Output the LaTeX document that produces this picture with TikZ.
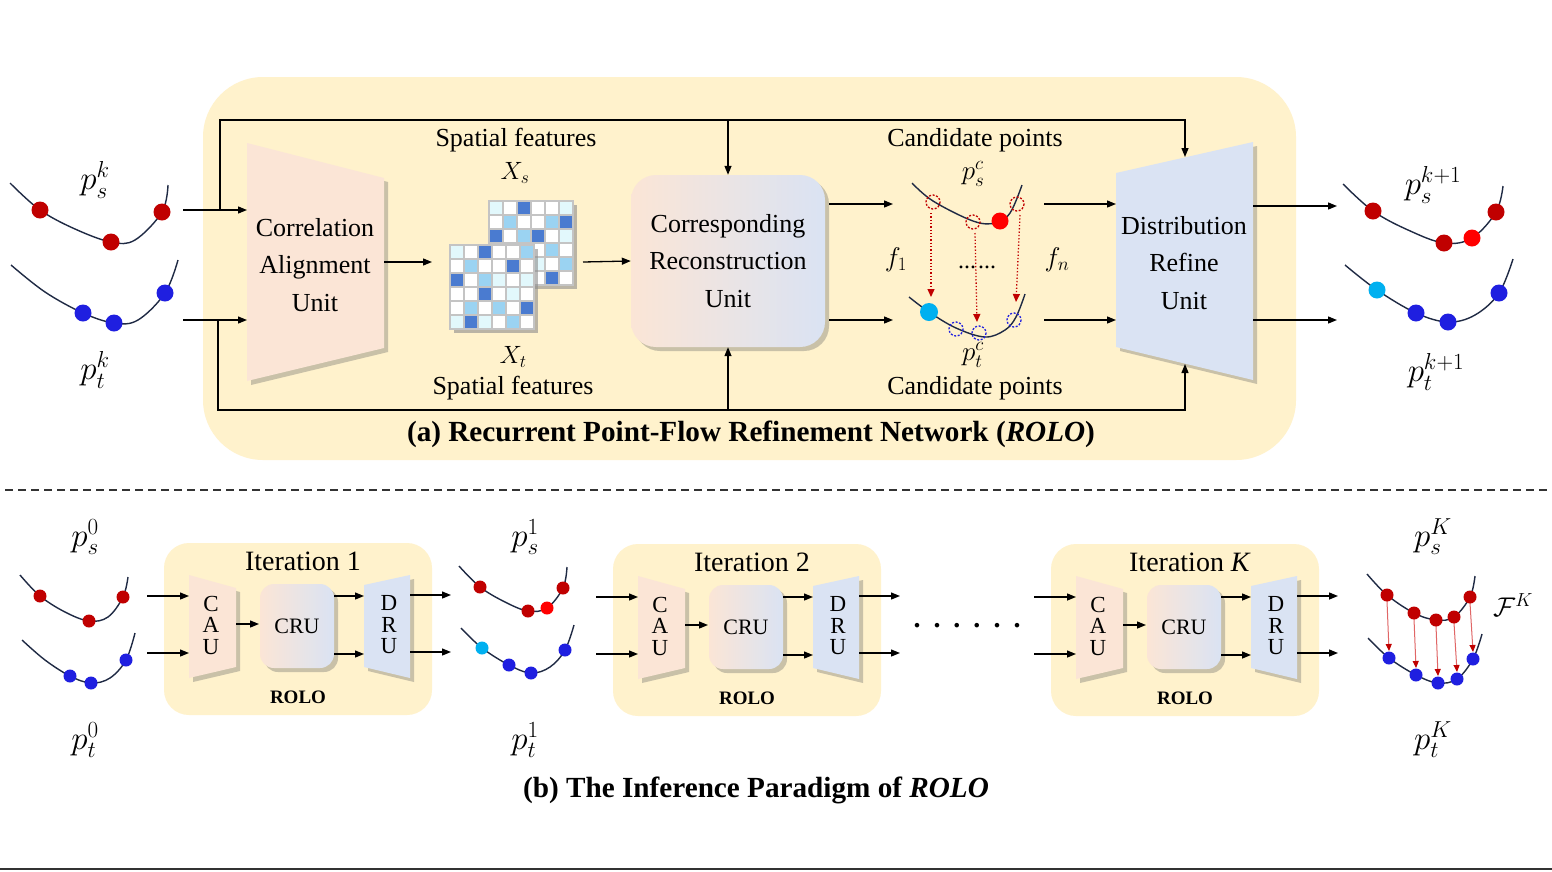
\RequirePackage{fix-cm}
\documentclass[tikz,border=0pt]{standalone}
\usepackage{fontspec}
\setmainfont{Liberation Serif}
\usetikzlibrary{arrows.meta,shadows,calc}
\definecolor{panel}{HTML}{FFF2CC}
\definecolor{caufill}{HTML}{FBE5D6}
\definecolor{drufill}{HTML}{DAE3F3}
\definecolor{dred}{HTML}{C00000}
\definecolor{bred}{HTML}{FF0000}
\definecolor{dblue}{HTML}{1F1FE0}
\definecolor{cyanp}{HTML}{00B0F0}
\definecolor{navy}{HTML}{1F2A44}
\definecolor{lred}{HTML}{E06666}
\definecolor{gw}{HTML}{FFFFFF}
\definecolor{gc}{HTML}{E2F8FC}
\definecolor{gl}{HTML}{9BD3F2}
\definecolor{gb}{HTML}{4A7BD0}
\definecolor{gline}{HTML}{C4C4C4}
\tikzset{
  arr/.style={-{Triangle[length=9pt,width=7pt]}, line width=1.3pt, black},
  crv/.style={line width=1.4pt, navy},
  shd/.style={drop shadow={shadow xshift=4pt, shadow yshift=-4pt, opacity=0.35, fill=black!60}},
  lab/.style={font=\fontsize{26}{37.5}\selectfont, align=center, inner sep=0pt},
  mth/.style={font=\fontsize{27}{32}\selectfont, inner sep=0pt},
  mthbig/.style={font=\fontsize{33}{38}\selectfont, inner sep=0pt},
  mthx/.style={font=\fontsize{25}{30}\selectfont, inner sep=0pt},
  ttl/.style={font=\fontsize{28}{34}\selectfont, inner sep=0pt},
  lett/.style={font=\fontsize{23}{21.5}\selectfont, align=center, inner sep=0pt},
  captxt/.style={font=\bfseries\fontsize{29.2}{34}\selectfont, inner sep=0pt},
  rololab/.style={font=\bfseries\fontsize{19}{21}\selectfont, inner sep=0pt},
  crubox/.style={rounded corners=25pt, left color=caufill, right color=drufill, shd, draw=none},
  dashc/.style={line width=1.3pt, dash pattern=on 2pt off 1.6pt},
  dotarr/.style={dred, line width=1.3pt, dotted, -{Triangle[length=8pt,width=7pt]}},
  flowarr/.style={lred, line width=1pt, -{Triangle[length=7pt,width=6pt,color=dred]}},
}
\newcommand\featgrid[3]{%
  \fill[black!45, opacity=.6] (#1+4,#2+4) rectangle ++(84,84);
  \foreach \rw [count=\r from 0] in {#3} {
    \foreach \cl [count=\c from 0] in \rw {
      \filldraw[fill=g\cl, draw=gline, line width=1.3pt] ({#1+\c*14},{#2+\r*14}) rectangle ++(14,14);
    }
  }
}
\newcommand\roloblk[4]{%
\begin{scope}[shift={(#1,#2)}]
\path[fill=panel, rounded corners=25pt] (164,543) rectangle (432,715);
\node[ttl] (#4title) at (303,561) {#3};
\path[fill=caufill, shd] (189,575) -- (236,588) -- (236,667) -- (189,678) -- cycle;
\node[lett] (#4cau) at (211,625) {C\\A\\U};
\node[crubox, rounded corners=14pt, minimum width=74pt, minimum height=84pt, font=\fontsize{22}{24}\selectfont, inner sep=0pt] (#4cru) at (297,626) {CRU};
\path[fill=drufill, shd] (364,585) -- (410,575) -- (410,678) -- (364,667) -- cycle;
\node[lett] (#4dru) at (389,625) {D\\R\\U};
\node[rololab] (#4rolo) at (298,697) {ROLO};
\coordinate (#4iS) at (147,596); \coordinate (#4aS) at (189,596);
\coordinate (#4iT) at (147,653); \coordinate (#4aT) at (189,653);
\coordinate (#4c1) at (236,624); \coordinate (#4c2) at (259,624);
\coordinate (#4r1) at (334,596); \coordinate (#4d1) at (364,596);
\coordinate (#4r2) at (334,654); \coordinate (#4d2) at (364,654);
\coordinate (#4o1) at (410,595); \coordinate (#4e1) at (451,595);
\coordinate (#4o2) at (410,652); \coordinate (#4e2) at (451,652);
\draw[arr] (#4iS) -- (#4aS);
\draw[arr] (#4iT) -- (#4aT);
\draw[arr] (#4c1) -- (#4c2);
\draw[arr] (#4r1) -- (#4d1);
\draw[arr] (#4r2) -- (#4d2);
\draw[arr] (#4o1) -- (#4e1);
\draw[arr] (#4o2) -- (#4e2);
\end{scope}}
\begin{document}
\begin{tikzpicture}[x=1pt,y=-1pt]
\useasboundingbox (0,0) rectangle (1552,871);
\fill[white] (0,0) rectangle (1552,871);
% ---------- top panel ----------
\path[fill=panel, rounded corners=60pt] (203,77) rectangle (1296,460);
% CAU
\path[fill=caufill, shd] (247,143) -- (384,178) -- (384,348) -- (247,381) -- cycle;
\node[lab] (caul) at (315,265) {Correlation\\Alignment\\Unit};
% DRU
\path[fill=drufill, shd] (1116,173) -- (1253,142) -- (1253,380) -- (1116,347) -- cycle;
\node[lab] (drul) at (1184,263) {Distribution\\Refine\\Unit};
% CRU
\node[crubox, lab, minimum width=194pt, minimum height=172pt] (cru) at (728,261) {Corresponding\\Reconstruction\\Unit};
% grids
\featgrid{489}{201}{{c,w,b,w,w,c},{w,l,w,w,l,b},{b,w,l,b,w,c},{w,c,w,w,l,w},{l,w,c,c,w,l},{w,c,w,w,b,w}}
\featgrid{450}{245}{{c,w,b,w,w,l},{w,l,w,w,b,w},{b,w,l,c,w,c},{w,w,b,w,c,w},{w,l,w,l,w,b},{c,b,c,w,l,w}}
% coordinates
\coordinate (inS) at (183,210);  \coordinate (cauS) at (247,210);
\coordinate (inT) at (183,320);  \coordinate (cauT) at (247,320);
\coordinate (fbA) at (220,210);  \coordinate (fbTL) at (220,120);
\coordinate (fbTM) at (728,120); \coordinate (fbTR) at (1185,120);
\coordinate (druTop) at (1185,157);
\coordinate (fbB) at (218,320);  \coordinate (fbBL) at (218,410);
\coordinate (fbBM) at (728,410); \coordinate (fbBR) at (1185,410);
\coordinate (druBot) at (1185,364);
\coordinate (cauOut) at (384,262); \coordinate (gridIn) at (432,262);
\coordinate (gridOut) at (583,262);
\coordinate (cruOS) at (829,204); \coordinate (candInS) at (893,204);
\coordinate (cruOT) at (829,320); \coordinate (candInT) at (893,320);
\coordinate (candOS) at (1044,204); \coordinate (druS) at (1116,204);
\coordinate (candOT) at (1044,320); \coordinate (druT) at (1116,320);
\coordinate (druOS) at (1253,206); \coordinate (outS) at (1337,206);
\coordinate (druOT) at (1253,320); \coordinate (outT) at (1337,320);
% connectors
\draw[arr] (fbA) -- (fbTL) -- (fbTR) -- (druTop);
\draw[arr] (fbTM) -- (cru.north);
\draw[arr] (fbB) -- (fbBL) -- (fbBR) -- (druBot);
\draw[arr] (fbBM) -- (cru.south);
\draw[arr] (inS) -- (cauS);
\draw[arr] (inT) -- (cauT);
\draw[arr] (cauOut) -- (gridIn);
\draw[arr] (gridOut) -- (cru.west);
\draw[arr] (cruOS) -- (candInS);
\draw[arr] (cruOT) -- (candInT);
\draw[arr] (candOS) -- (druS);
\draw[arr] (candOT) -- (druT);
\draw[arr] (druOS) -- (outS);
\draw[arr] (druOT) -- (outT);
% left curves
\draw[crv] plot[smooth, tension=0.6] coordinates {(10,183) (40,210) (75,229) (111,242) (135,240) (162,212) (168,185)};
\draw[crv] plot[smooth, tension=0.6] coordinates {(11,265) (45,292) (83,313) (114,323) (138,320) (165,293) (178,260)};
\foreach \p in {(40,210),(111,242),(162,212)} \fill[dred] \p circle[radius=8.5];
\foreach \p in {(83,313),(114,323),(165,293)} \fill[dblue] \p circle[radius=8.5];
% right curves
\draw[crv] plot[smooth, tension=0.6] coordinates {(1343,184) (1373,211) (1408,230) (1444,243) (1472,238) (1496,212) (1503,186)};
\draw[crv] plot[smooth, tension=0.6] coordinates {(1345,265) (1377,290) (1416,313) (1448,322) (1475,315) (1499,293) (1513,259)};
\foreach \p in {(1373,211),(1444,243),(1496,212)} \fill[dred] \p circle[radius=8.5];
\fill[bred] (1472,238) circle[radius=8.5];
\fill[cyanp] (1377,290) circle[radius=8.5];
\foreach \p in {(1416,313),(1448,322),(1499,293)} \fill[dblue] \p circle[radius=8.5];
% candidate curves
\draw[crv] plot[smooth, tension=0.6] coordinates {(912,183) (933,201) (973,221) (995,223) (1010,213) (1022,185)};
\draw[crv] plot[smooth, tension=0.6] coordinates {(909,297) (929,312) (956,328) (985,337) (1005,330) (1016,317) (1025,294)};
\foreach \p in {(933,202),(973,222),(1017,204)} \draw[dred, dashc] \p circle[radius=7];
\foreach \p in {(956,329),(979,333),(1014,320)} \draw[dblue, dashc] \p circle[radius=7];
\fill[bred] (1000,221) circle[radius=8.5];
\fill[cyanp] (929,312) circle[radius=9];
\foreach \a/\b/\c/\d [count=\i] in {931/213/931/297, 975/233/977/322, 1020/215/1016/302}{
  \coordinate (ds\i) at (\a,\b); \coordinate (de\i) at (\c,\d);
  \draw[dotarr] (ds\i) -- (de\i);
}
% labels top
\node[mthbig] (psk) at (95,180) {$p_s^k$};
\node[mthbig] (ptk) at (95,370) {$p_t^k$};
\node[mthbig] (psk1) at (1433,185) {$p_s^{k+1}$};
\node[mthbig] (ptk1) at (1436,372) {$p_t^{k+1}$};
\node[mthx] (xs) at (515,173) {$X_s$};
\node[mthx] (xt) at (513,357) {$X_t$};
\node[mth] (psc) at (973,174) {$p_s^c$};
\node[mth] (ptc) at (973,355) {$p_t^c$};
\node[mth] (f1) at (896,260) {$f_1$};
\node[mth] (fn) at (1057,260) {$f_n$};
\node[lab] (sf1) at (516,140) {Spatial features};
\node[lab] (sf2) at (513,388) {Spatial features};
\node[lab] (cp1) at (975,140) {Candidate points};
\node[lab] (cp2) at (975,388) {Candidate points};
\node[font=\fontsize{24}{24}\selectfont, inner sep=0pt] (dd) at (977,267) {...\hspace{2pt}...};
\node[captxt] (capa) at (751,434) {(a) Recurrent Point-Flow Refinement Network (\textit{ROLO})};
% separator
\coordinate (dashL) at (5,490); \coordinate (dashR) at (1552,490);
\draw[line width=2pt, black!80, dash pattern=on 8pt off 5pt] (dashL) -- (dashR);
% ---------- bottom ----------
\roloblk{0}{0}{Iteration 1}{A}
\roloblk{449}{1}{Iteration 2}{B}
\roloblk{887}{1}{Iteration \textit{K}}{C}
\node[font=\bfseries\fontsize{28}{28}\selectfont, inner sep=0pt] (bdots) at (967,626) {.\hspace{13pt}.\hspace{13pt}.\hspace{13pt}.\hspace{13pt}.\hspace{13pt}.};
% p0 curves
\draw[crv] plot[smooth, tension=0.6] coordinates {(20,575) (40,596) (65,612) (89,621) (108,617) (123,597) (128,577)};
\draw[crv] plot[smooth, tension=0.6] coordinates {(22,640) (45,660) (70,676) (91,683) (110,678) (126,660) (135,633)};
\foreach \p in {(40,596),(89,621),(123,597)} \fill[dred] \p circle[radius=6.5];
\foreach \p in {(70,676),(91,683),(126,660)} \fill[dblue] \p circle[radius=6.5];
% p1 curves
\draw[crv] plot[smooth, tension=0.6] coordinates {(459,566) (480,587) (505,602) (528,611) (547,608) (563,588) (567,567)};
\draw[crv] plot[smooth, tension=0.6] coordinates {(461,628) (482,648) (509,665) (531,673) (550,667) (565,650) (574,625)};
\foreach \p in {(480,587),(528,611),(563,588)} \fill[dred] \p circle[radius=6.5];
\fill[bred] (547,608) circle[radius=6.5];
\fill[cyanp] (482,648) circle[radius=6.5];
\foreach \p in {(509,665),(531,673),(565,650)} \fill[dblue] \p circle[radius=6.5];
% final curves
\draw[crv] plot[smooth, tension=0.6] coordinates {(1367,574) (1387,595) (1414,613) (1436,620) (1454,617) (1470,597) (1475,576)};
\draw[crv] plot[smooth, tension=0.6] coordinates {(1368,638) (1389,658) (1416,675) (1438,683) (1457,679) (1473,659) (1482,634)};
\foreach \a/\b/\c/\d [count=\i] in {1387/601/1389/651, 1414/619/1416/668, 1436/626/1438/676, 1454/623/1457/672, 1470/603/1473/652}{
  \coordinate (fs\i) at (\a,\b); \coordinate (fe\i) at (\c,\d);
  \draw[flowarr] (fs\i) -- (fe\i);
}
\foreach \p in {(1387,595),(1414,613),(1436,620),(1454,617),(1470,597)} \fill[dred] \p circle[radius=6.5];
\foreach \p in {(1389,658),(1416,675),(1438,683),(1457,679),(1473,659)} \fill[dblue] \p circle[radius=6.5];
% bottom labels
\node[mthbig] (ps0) at (85,537) {$p_s^0$};
\node[mthbig] (pt0) at (85,740) {$p_t^0$};
\node[mthbig] (ps1) at (525,537) {$p_s^1$};
\node[mthbig] (pt1) at (525,740) {$p_t^1$};
\node[mthbig] (psK) at (1433,537) {$p_s^K$};
\node[mthbig] (ptK) at (1433,740) {$p_t^K$};
\node[mth] (FK) at (1513,605) {$\mathcal{F}^K$};
\node[captxt] (capb) at (756,790) {(b) The Inference Paradigm of \textit{ROLO}};
\coordinate (botL) at (0,869); \coordinate (botR) at (1552,869);
\draw[line width=2pt, black!80] (botL) -- (botR);
\end{tikzpicture}
\end{document}
